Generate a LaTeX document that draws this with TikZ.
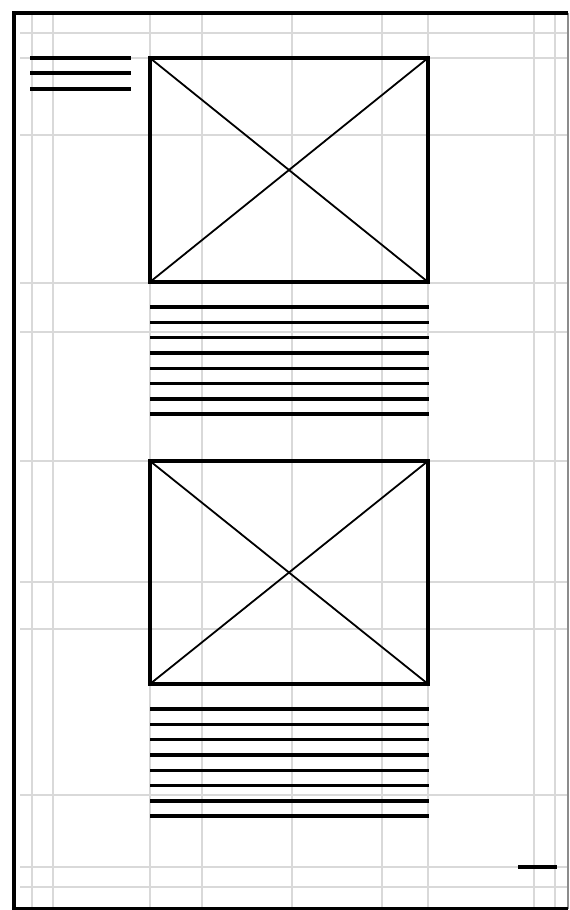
\documentclass[tikz,border=0pt]{standalone}
\begin{document}
\begin{tikzpicture}[x=1pt,y=-1pt,
  gridline/.style={draw=black!15,line width=1.2pt},
  frameline/.style={draw=black,line width=3.2pt},
  boxline/.style={draw=black,line width=3.2pt},
  crossline/.style={draw=black,line width=1.8pt},
  textline/.style={draw=black,line width=3.4pt}]
\useasboundingbox (0,0) rectangle (570,910);
\fill[white] (0,0) rectangle (570,910);
% grid
\foreach \x in {32,53,150,202,292,382,428,534,555}
  \draw[gridline] (\x,13) -- (\x,909);
\foreach \y in {33,58,135,283,332,461,582,629,795,867,887}
  \draw[gridline] (20,\y) -- (567,\y);
% frame
\draw[draw=black!45,line width=1.4pt] (568,13) -- (568,909);
\draw[frameline] (568,13) -- (14,13) -- (14,909) -- (568,909);
% top-left lines
\foreach \y in {58,73,89}
  \draw[textline] (30,\y) -- (131,\y);
% image boxes
\foreach \t/\b in {58/282,461/684}{
  \draw[crossline] (150,\t) -- (428,\b);
  \draw[crossline] (428,\t) -- (150,\b);
  \draw[boxline] (150,\t) rectangle (428,\b);
}
% text lines
\foreach \i in {0,...,7}{
  \draw[textline] (150,{307+15.3*\i}) -- (429,{307+15.3*\i});
  \draw[textline] (150,{709+15.3*\i}) -- (429,{709+15.3*\i});
}
% bottom-right dash
\draw[textline] (518,867) -- (557,867);
\end{tikzpicture}
\end{document}
